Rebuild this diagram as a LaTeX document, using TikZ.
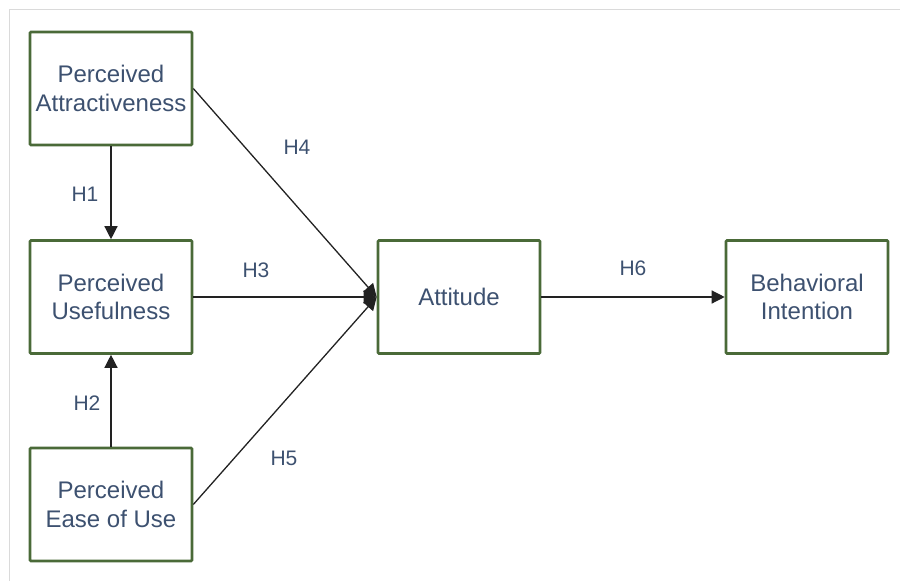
\documentclass[tikz,border=0pt]{standalone}
\usepackage{fontspec}
\setmainfont{Liberation Sans}
\usetikzlibrary{arrows.meta}
\definecolor{boxgreen}{HTML}{4A6A38}
\definecolor{txtblue}{HTML}{3D5170}
\definecolor{framegray}{HTML}{DADADA}
\definecolor{linegray}{HTML}{222222}
\begin{document}
\begin{tikzpicture}[x=1pt,y=-1pt,
  box/.style={draw=boxgreen, line width=2.6pt, fill=white, rounded corners=1pt,
    minimum width=162pt, minimum height=113pt, align=center, text=txtblue,
    font=\fontsize{24}{28.5}\selectfont, inner sep=0pt},
  hlab/.style={text=txtblue, font=\fontsize{21}{25}\selectfont, inner sep=0pt},
  conn/.style={draw=linegray, line width=1.3pt, -{Triangle[length=13pt,width=13pt]}}]
\useasboundingbox (0,0) rectangle (900,581);
\draw[framegray, line width=1.5pt] (9.5,581) -- (9.5,9.5) -- (900,9.5);
\node[box] (pa) at (111,88.5) {Perceived\\Attractiveness};
\node[box] (pu) at (111,297) {Perceived\\Usefulness};
\node[box] (pe) at (111,504.5) {Perceived\\Ease of Use};
\node[box] (at) at (459,297) {Attitude};
\node[box] (bi) at (807,297) {Behavioral\\Intention};
\draw[conn] (pa.south) -- (pu.north);
\draw[conn] (pe.north) -- (pu.south);
\draw[conn] (pa.east) -- (at.west);
\draw[conn] (pu.east) -- (at.west);
\draw[conn] (pe.east) -- (at.west);
\draw[conn] (at.east) -- (bi.west);
\node[hlab] (h1) at (85,194) {H1};
\node[hlab] (h2) at (87,403) {H2};
\node[hlab] (h3) at (256,270) {H3};
\node[hlab] (h4) at (297,147) {H4};
\node[hlab] (h5) at (284,458) {H5};
\node[hlab] (h6) at (633,268) {H6};
\end{tikzpicture}
\end{document}
